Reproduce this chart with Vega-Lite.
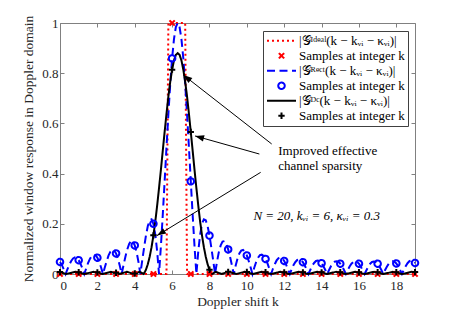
{
 "$schema": "https://vega.github.io/schema/vega-lite/v6.json",
 "width": 355, "height": 251,
 "autosize": {"type": "none"},
 "padding": {"left": 60, "top": 23, "right": 42, "bottom": 36},
 "background": "white",
 "config": {
  "view": {"stroke": null},
  "font": "Liberation Serif",
  "axis": {"domainColor": "#808080", "tickColor": "#808080", "labelFont": "Liberation Serif", "labelFontSize": 13, "labelColor": "#262626", "titleFont": "Liberation Serif", "titleFontSize": 13.5, "titleFontWeight": "normal", "titleColor": "#262626", "grid": false, "tickSize": -4},
  "legend": {"orient": "none", "legendX": 203, "legendY": 8, "strokeColor": "#404040", "fillColor": "white", "padding": 3, "labelFont": "Liberation Serif", "labelFontSize": 13, "labelColor": "black", "symbolStrokeWidth": 2, "rowPadding": 1, "labelOffset": 2, "labelLimit": 0, "clipHeight": 13.5}
 },
 "datasets": {
  "curves": [
   {"k":0,"v":0,"s":"IdealLine"},{"k":5.7,"v":0,"s":"IdealLine"},{"k":5.8,"v":1,"s":"IdealLine"},{"k":6.7,"v":1,"s":"IdealLine"},{"k":6.8,"v":0,"s":"IdealLine"},{"k":19,"v":0,"s":"IdealLine"},
   {"k":0,"v":0.048,"s":"RectLine"},{"k":0.1,"v":0.036,"s":"RectLine"},{"k":0.2,"v":0.019,"s":"RectLine"},{"k":0.3,"v":0,"s":"RectLine"},{"k":0.4,"v":0.019,"s":"RectLine"},{"k":0.5,"v":0.037,"s":"RectLine"},{"k":0.6,"v":0.052,"s":"RectLine"},{"k":0.7,"v":0.062,"s":"RectLine"},{"k":0.8,"v":0.066,"s":"RectLine"},{"k":0.9,"v":0.063,"s":"RectLine"},
   {"k":1.0,"v":0.055,"s":"RectLine"},{"k":1.1,"v":0.040,"s":"RectLine"},{"k":1.2,"v":0.022,"s":"RectLine"},{"k":1.3,"v":0,"s":"RectLine"},{"k":1.4,"v":0.022,"s":"RectLine"},{"k":1.5,"v":0.043,"s":"RectLine"},{"k":1.6,"v":0.060,"s":"RectLine"},{"k":1.7,"v":0.072,"s":"RectLine"},{"k":1.8,"v":0.077,"s":"RectLine"},{"k":1.9,"v":0.075,"s":"RectLine"},
   {"k":2.0,"v":0.065,"s":"RectLine"},{"k":2.1,"v":0.048,"s":"RectLine"},{"k":2.2,"v":0.026,"s":"RectLine"},{"k":2.3,"v":0,"s":"RectLine"},{"k":2.4,"v":0.027,"s":"RectLine"},{"k":2.5,"v":0.052,"s":"RectLine"},{"k":2.6,"v":0.074,"s":"RectLine"},{"k":2.7,"v":0.089,"s":"RectLine"},{"k":2.8,"v":0.096,"s":"RectLine"},{"k":2.9,"v":0.093,"s":"RectLine"},
   {"k":3.0,"v":0.082,"s":"RectLine"},{"k":3.1,"v":0.061,"s":"RectLine"},{"k":3.2,"v":0.033,"s":"RectLine"},{"k":3.3,"v":0,"s":"RectLine"},{"k":3.4,"v":0.035,"s":"RectLine"},{"k":3.5,"v":0.069,"s":"RectLine"},{"k":3.6,"v":0.098,"s":"RectLine"},{"k":3.7,"v":0.120,"s":"RectLine"},{"k":3.8,"v":0.131,"s":"RectLine"},{"k":3.9,"v":0.129,"s":"RectLine"},
   {"k":4.0,"v":0.114,"s":"RectLine"},{"k":4.1,"v":0.087,"s":"RectLine"},{"k":4.2,"v":0.048,"s":"RectLine"},{"k":4.3,"v":0,"s":"RectLine"},{"k":4.4,"v":0.053,"s":"RectLine"},{"k":4.5,"v":0.105,"s":"RectLine"},{"k":4.6,"v":0.153,"s":"RectLine"},{"k":4.7,"v":0.191,"s":"RectLine"},{"k":4.8,"v":0.214,"s":"RectLine"},{"k":4.9,"v":0.218,"s":"RectLine"},
   {"k":5.0,"v":0.200,"s":"RectLine"},{"k":5.1,"v":0.157,"s":"RectLine"},{"k":5.2,"v":0.090,"s":"RectLine"},{"k":5.3,"v":0,"s":"RectLine"},{"k":5.4,"v":0.110,"s":"RectLine"},{"k":5.5,"v":0.235,"s":"RectLine"},{"k":5.6,"v":0.369,"s":"RectLine"},{"k":5.7,"v":0.505,"s":"RectLine"},{"k":5.8,"v":0.637,"s":"RectLine"},{"k":5.9,"v":0.757,"s":"RectLine"},
   {"k":6.0,"v":0.859,"s":"RectLine"},{"k":6.1,"v":0.936,"s":"RectLine"},{"k":6.2,"v":0.984,"s":"RectLine"},{"k":6.3,"v":1,"s":"RectLine"},{"k":6.4,"v":0.984,"s":"RectLine"},{"k":6.5,"v":0.936,"s":"RectLine"},{"k":6.6,"v":0.859,"s":"RectLine"},{"k":6.7,"v":0.757,"s":"RectLine"},{"k":6.8,"v":0.637,"s":"RectLine"},{"k":6.9,"v":0.505,"s":"RectLine"},
   {"k":7.0,"v":0.369,"s":"RectLine"},{"k":7.1,"v":0.235,"s":"RectLine"},{"k":7.2,"v":0.110,"s":"RectLine"},{"k":7.3,"v":0,"s":"RectLine"},{"k":7.4,"v":0.090,"s":"RectLine"},{"k":7.5,"v":0.157,"s":"RectLine"},{"k":7.6,"v":0.200,"s":"RectLine"},{"k":7.7,"v":0.218,"s":"RectLine"},{"k":7.8,"v":0.214,"s":"RectLine"},{"k":7.9,"v":0.191,"s":"RectLine"},
   {"k":8.0,"v":0.153,"s":"RectLine"},{"k":8.1,"v":0.105,"s":"RectLine"},{"k":8.2,"v":0.053,"s":"RectLine"},{"k":8.3,"v":0,"s":"RectLine"},{"k":8.4,"v":0.048,"s":"RectLine"},{"k":8.5,"v":0.087,"s":"RectLine"},{"k":8.6,"v":0.114,"s":"RectLine"},{"k":8.7,"v":0.129,"s":"RectLine"},{"k":8.8,"v":0.131,"s":"RectLine"},{"k":8.9,"v":0.120,"s":"RectLine"},
   {"k":9.0,"v":0.098,"s":"RectLine"},{"k":9.1,"v":0.069,"s":"RectLine"},{"k":9.2,"v":0.035,"s":"RectLine"},{"k":9.3,"v":0,"s":"RectLine"},{"k":9.4,"v":0.033,"s":"RectLine"},{"k":9.5,"v":0.061,"s":"RectLine"},{"k":9.6,"v":0.082,"s":"RectLine"},{"k":9.7,"v":0.093,"s":"RectLine"},{"k":9.8,"v":0.096,"s":"RectLine"},{"k":9.9,"v":0.089,"s":"RectLine"},
   {"k":10.0,"v":0.074,"s":"RectLine"},{"k":10.1,"v":0.052,"s":"RectLine"},{"k":10.2,"v":0.027,"s":"RectLine"},{"k":10.3,"v":0,"s":"RectLine"},{"k":10.4,"v":0.026,"s":"RectLine"},{"k":10.5,"v":0.048,"s":"RectLine"},{"k":10.6,"v":0.065,"s":"RectLine"},{"k":10.7,"v":0.075,"s":"RectLine"},{"k":10.8,"v":0.077,"s":"RectLine"},{"k":10.9,"v":0.072,"s":"RectLine"},
   {"k":11.0,"v":0.060,"s":"RectLine"},{"k":11.1,"v":0.043,"s":"RectLine"},{"k":11.2,"v":0.022,"s":"RectLine"},{"k":11.3,"v":0,"s":"RectLine"},{"k":11.4,"v":0.022,"s":"RectLine"},{"k":11.5,"v":0.040,"s":"RectLine"},{"k":11.6,"v":0.055,"s":"RectLine"},{"k":11.7,"v":0.063,"s":"RectLine"},{"k":11.8,"v":0.066,"s":"RectLine"},{"k":11.9,"v":0.062,"s":"RectLine"},
   {"k":12.0,"v":0.052,"s":"RectLine"},{"k":12.1,"v":0.037,"s":"RectLine"},{"k":12.2,"v":0.019,"s":"RectLine"},{"k":12.3,"v":0,"s":"RectLine"},{"k":12.4,"v":0.019,"s":"RectLine"},{"k":12.5,"v":0.036,"s":"RectLine"},{"k":12.6,"v":0.048,"s":"RectLine"},{"k":12.7,"v":0.056,"s":"RectLine"},{"k":12.8,"v":0.059,"s":"RectLine"},{"k":12.9,"v":0.055,"s":"RectLine"},
   {"k":13.0,"v":0.047,"s":"RectLine"},{"k":13.1,"v":0.034,"s":"RectLine"},{"k":13.2,"v":0.018,"s":"RectLine"},{"k":13.3,"v":0,"s":"RectLine"},{"k":13.4,"v":0.017,"s":"RectLine"},{"k":13.5,"v":0.033,"s":"RectLine"},{"k":13.6,"v":0.044,"s":"RectLine"},{"k":13.7,"v":0.052,"s":"RectLine"},{"k":13.8,"v":0.054,"s":"RectLine"},{"k":13.9,"v":0.051,"s":"RectLine"},
   {"k":14.0,"v":0.043,"s":"RectLine"},{"k":14.1,"v":0.031,"s":"RectLine"},{"k":14.2,"v":0.016,"s":"RectLine"},{"k":14.3,"v":0,"s":"RectLine"},{"k":14.4,"v":0.016,"s":"RectLine"},{"k":14.5,"v":0.031,"s":"RectLine"},{"k":14.6,"v":0.042,"s":"RectLine"},{"k":14.7,"v":0.049,"s":"RectLine"},{"k":14.8,"v":0.051,"s":"RectLine"},{"k":14.9,"v":0.049,"s":"RectLine"},
   {"k":15.0,"v":0.041,"s":"RectLine"},{"k":15.1,"v":0.030,"s":"RectLine"},{"k":15.2,"v":0.016,"s":"RectLine"},{"k":15.3,"v":0,"s":"RectLine"},{"k":15.4,"v":0.016,"s":"RectLine"},{"k":15.5,"v":0.030,"s":"RectLine"},{"k":15.6,"v":0.041,"s":"RectLine"},{"k":15.7,"v":0.048,"s":"RectLine"},{"k":15.8,"v":0.050,"s":"RectLine"},{"k":15.9,"v":0.048,"s":"RectLine"},
   {"k":16.0,"v":0.041,"s":"RectLine"},{"k":16.1,"v":0.029,"s":"RectLine"},{"k":16.2,"v":0.015,"s":"RectLine"},{"k":16.3,"v":0,"s":"RectLine"},{"k":16.4,"v":0.015,"s":"RectLine"},{"k":16.5,"v":0.029,"s":"RectLine"},{"k":16.6,"v":0.041,"s":"RectLine"},{"k":16.7,"v":0.048,"s":"RectLine"},{"k":16.8,"v":0.050,"s":"RectLine"},{"k":16.9,"v":0.048,"s":"RectLine"},
   {"k":17.0,"v":0.041,"s":"RectLine"},{"k":17.1,"v":0.030,"s":"RectLine"},{"k":17.2,"v":0.016,"s":"RectLine"},{"k":17.3,"v":0,"s":"RectLine"},{"k":17.4,"v":0.016,"s":"RectLine"},{"k":17.5,"v":0.030,"s":"RectLine"},{"k":17.6,"v":0.041,"s":"RectLine"},{"k":17.7,"v":0.049,"s":"RectLine"},{"k":17.8,"v":0.051,"s":"RectLine"},{"k":17.9,"v":0.049,"s":"RectLine"},
   {"k":18.0,"v":0.042,"s":"RectLine"},{"k":18.1,"v":0.031,"s":"RectLine"},{"k":18.2,"v":0.016,"s":"RectLine"},{"k":18.3,"v":0,"s":"RectLine"},{"k":18.4,"v":0.016,"s":"RectLine"},{"k":18.5,"v":0.031,"s":"RectLine"},{"k":18.6,"v":0.043,"s":"RectLine"},{"k":18.7,"v":0.051,"s":"RectLine"},{"k":18.8,"v":0.054,"s":"RectLine"},{"k":18.9,"v":0.052,"s":"RectLine"},
   {"k":19.0,"v":0.044,"s":"RectLine"},
   {"k":0,"v":0.0075,"s":"DCLine"},{"k":0.323,"v":0,"s":"DCLine"},{"k":0.819,"v":0.0088,"s":"DCLine"},{"k":1.306,"v":0,"s":"DCLine"},{"k":1.79,"v":0.0088,"s":"DCLine"},{"k":2.263,"v":0,"s":"DCLine"},{"k":2.724,"v":0.0088,"s":"DCLine"},{"k":3.166,"v":0,"s":"DCLine"},{"k":3.581,"v":0.0088,"s":"DCLine"},{"k":3.955,"v":0,"s":"DCLine"},{"k":4.258,"v":0.0088,"s":"DCLine"},{"k":4.472,"v":0,"s":"DCLine"},{"k":4.545,"v":0.0088,"s":"DCLine"},
   {"k":4.6,"v":0.017,"s":"DCLine"},{"k":4.7,"v":0.039,"s":"DCLine"},{"k":4.8,"v":0.069,"s":"DCLine"},{"k":4.9,"v":0.107,"s":"DCLine"},{"k":5.0,"v":0.154,"s":"DCLine"},{"k":5.1,"v":0.209,"s":"DCLine"},{"k":5.2,"v":0.273,"s":"DCLine"},{"k":5.3,"v":0.342,"s":"DCLine"},{"k":5.4,"v":0.415,"s":"DCLine"},{"k":5.5,"v":0.491,"s":"DCLine"},{"k":5.6,"v":0.566,"s":"DCLine"},{"k":5.7,"v":0.639,"s":"DCLine"},{"k":5.8,"v":0.707,"s":"DCLine"},{"k":5.9,"v":0.766,"s":"DCLine"},
   {"k":6.0,"v":0.814,"s":"DCLine"},{"k":6.1,"v":0.851,"s":"DCLine"},{"k":6.2,"v":0.873,"s":"DCLine"},{"k":6.3,"v":0.880,"s":"DCLine"},{"k":6.4,"v":0.873,"s":"DCLine"},{"k":6.5,"v":0.851,"s":"DCLine"},{"k":6.6,"v":0.814,"s":"DCLine"},{"k":6.7,"v":0.766,"s":"DCLine"},{"k":6.8,"v":0.707,"s":"DCLine"},{"k":6.9,"v":0.639,"s":"DCLine"},
   {"k":7.0,"v":0.566,"s":"DCLine"},{"k":7.1,"v":0.491,"s":"DCLine"},{"k":7.2,"v":0.415,"s":"DCLine"},{"k":7.3,"v":0.342,"s":"DCLine"},{"k":7.4,"v":0.273,"s":"DCLine"},{"k":7.5,"v":0.209,"s":"DCLine"},{"k":7.6,"v":0.154,"s":"DCLine"},{"k":7.7,"v":0.107,"s":"DCLine"},{"k":7.8,"v":0.069,"s":"DCLine"},{"k":7.9,"v":0.039,"s":"DCLine"},{"k":8.0,"v":0.017,"s":"DCLine"},{"k":8.055,"v":0.0088,"s":"DCLine"},
   {"k":8.128,"v":0,"s":"DCLine"},{"k":8.342,"v":0.0088,"s":"DCLine"},{"k":8.645,"v":0,"s":"DCLine"},{"k":9.019,"v":0.0088,"s":"DCLine"},{"k":9.434,"v":0,"s":"DCLine"},{"k":9.876,"v":0.0088,"s":"DCLine"},{"k":10.337,"v":0,"s":"DCLine"},{"k":10.81,"v":0.0088,"s":"DCLine"},{"k":11.294,"v":0,"s":"DCLine"},{"k":11.781,"v":0.0088,"s":"DCLine"},{"k":12.277,"v":0,"s":"DCLine"},{"k":12.771,"v":0.0088,"s":"DCLine"},{"k":13.271,"v":0,"s":"DCLine"},{"k":13.773,"v":0.0088,"s":"DCLine"},{"k":14.277,"v":0,"s":"DCLine"},{"k":14.782,"v":0.0088,"s":"DCLine"},{"k":15.287,"v":0,"s":"DCLine"},{"k":15.794,"v":0.0088,"s":"DCLine"},{"k":16.3,"v":0,"s":"DCLine"},{"k":16.806,"v":0.0088,"s":"DCLine"},{"k":17.313,"v":0,"s":"DCLine"},{"k":17.818,"v":0.0088,"s":"DCLine"},{"k":18.323,"v":0,"s":"DCLine"},{"k":18.829,"v":0.0088,"s":"DCLine"},{"k":19,"v":0.0076,"s":"DCLine"}
  ],
  "samples": [
   {"k":0,"v":0,"s":"IdealSamples"},{"k":1,"v":0,"s":"IdealSamples"},{"k":2,"v":0,"s":"IdealSamples"},{"k":3,"v":0,"s":"IdealSamples"},{"k":4,"v":0,"s":"IdealSamples"},{"k":5,"v":0,"s":"IdealSamples"},{"k":6,"v":1,"s":"IdealSamples"},{"k":7,"v":0,"s":"IdealSamples"},{"k":8,"v":0,"s":"IdealSamples"},{"k":9,"v":0,"s":"IdealSamples"},{"k":10,"v":0,"s":"IdealSamples"},{"k":11,"v":0,"s":"IdealSamples"},{"k":12,"v":0,"s":"IdealSamples"},{"k":13,"v":0,"s":"IdealSamples"},{"k":14,"v":0,"s":"IdealSamples"},{"k":15,"v":0,"s":"IdealSamples"},{"k":16,"v":0,"s":"IdealSamples"},{"k":17,"v":0,"s":"IdealSamples"},{"k":18,"v":0,"s":"IdealSamples"},{"k":19,"v":0,"s":"IdealSamples"},
   {"k":0,"v":0.048,"s":"RectSamples"},{"k":1,"v":0.055,"s":"RectSamples"},{"k":2,"v":0.065,"s":"RectSamples"},{"k":3,"v":0.082,"s":"RectSamples"},{"k":4,"v":0.114,"s":"RectSamples"},{"k":5,"v":0.200,"s":"RectSamples"},{"k":6,"v":0.859,"s":"RectSamples"},{"k":7,"v":0.369,"s":"RectSamples"},{"k":8,"v":0.153,"s":"RectSamples"},{"k":9,"v":0.098,"s":"RectSamples"},{"k":10,"v":0.074,"s":"RectSamples"},{"k":11,"v":0.060,"s":"RectSamples"},{"k":12,"v":0.052,"s":"RectSamples"},{"k":13,"v":0.047,"s":"RectSamples"},{"k":14,"v":0.043,"s":"RectSamples"},{"k":15,"v":0.041,"s":"RectSamples"},{"k":16,"v":0.041,"s":"RectSamples"},{"k":17,"v":0.041,"s":"RectSamples"},{"k":18,"v":0.042,"s":"RectSamples"},{"k":19,"v":0.044,"s":"RectSamples"},
   {"k":0,"v":0.0075,"s":"DCSamples"},{"k":1,"v":0.007,"s":"DCSamples"},{"k":2,"v":0.0067,"s":"DCSamples"},{"k":3,"v":0.0049,"s":"DCSamples"},{"k":4,"v":0.002,"s":"DCSamples"},{"k":5,"v":0.154,"s":"DCSamples"},{"k":6,"v":0.814,"s":"DCSamples"},{"k":7,"v":0.566,"s":"DCSamples"},{"k":8,"v":0.017,"s":"DCSamples"},{"k":9,"v":0.0088,"s":"DCSamples"},{"k":10,"v":0.008,"s":"DCSamples"},{"k":11,"v":0.0072,"s":"DCSamples"},{"k":12,"v":0.0068,"s":"DCSamples"},{"k":13,"v":0.0066,"s":"DCSamples"},{"k":14,"v":0.0067,"s":"DCSamples"},{"k":15,"v":0.0069,"s":"DCSamples"},{"k":16,"v":0.007,"s":"DCSamples"},{"k":17,"v":0.0072,"s":"DCSamples"},{"k":18,"v":0.0074,"s":"DCSamples"},{"k":19,"v":0.0076,"s":"DCSamples"}
  ]
 },
 "layer": [
  {
   "data": {"name": "curves"},
   "mark": {"type": "line", "strokeWidth": 2},
   "encoding": {
    "x": {"field": "k", "type": "quantitative", "scale": {"domain": [0, 19], "nice": false, "zero": false},
          "axis": {"orient": "bottom", "values": [0,2,4,6,8,10,12,14,16,18], "title": "Doppler shift k", "labelPadding": 9, "titlePadding": 2}},
    "y": {"field": "v", "type": "quantitative", "scale": {"domain": [0, 1], "nice": false},
          "axis": {"orient": "left", "values": [0,0.2,0.4,0.6,0.8,1], "format": "~g", "title": "Normalized window response in Doppler domain", "labelPadding": 6, "titlePadding": 6}},
    "color": {"field": "s", "type": "nominal",
              "scale": {"domain": ["IdealLine","IdealSamples","RectLine","RectSamples","DCLine","DCSamples"], "range": ["#ff0000","#ff0000","#0000ff","#0000ff","#000000","#000000"]},
              "legend": {"title": null, "labelFont": "Liberation Serif", "labelExpr": "datum.value == 'IdealLine' ? '|𝒢ᴵᵈᵉᵃˡ(k − kᵥᵢ − κᵥᵢ)|' : datum.value == 'RectLine' ? '|𝒢ᴿᵉᶜᵗ(k − kᵥᵢ − κᵥᵢ)|' : datum.value == 'DCLine' ? '|𝒢ᴰᶜ(k − kᵥᵢ − κᵥᵢ)|' : 'Samples at integer k'"}},
    "strokeDash": {"field": "s", "type": "nominal",
              "scale": {"domain": ["IdealLine","IdealSamples","RectLine","RectSamples","DCLine","DCSamples"], "range": [[2,3],[1,0],[8,4.5],[1,0],[1,0],[1,0]]},
              "legend": {"title": null, "labelFont": "Liberation Serif", "labelExpr": "datum.value == 'IdealLine' ? '|𝒢ᴵᵈᵉᵃˡ(k − kᵥᵢ − κᵥᵢ)|' : datum.value == 'RectLine' ? '|𝒢ᴿᵉᶜᵗ(k − kᵥᵢ − κᵥᵢ)|' : datum.value == 'DCLine' ? '|𝒢ᴰᶜ(k − kᵥᵢ − κᵥᵢ)|' : 'Samples at integer k'"}}
   }
  },
  {
   "data": {"name": "samples"},
   "mark": {"type": "point", "filled": false, "strokeWidth": 2, "opacity": 1},
   "encoding": {
    "x": {"field": "k", "type": "quantitative", "axis": {"orient": "top", "values": [0,2,4,6,8,10,12,14,16,18], "labels": false, "title": null}},
    "y": {"field": "v", "type": "quantitative", "axis": {"orient": "right", "values": [0,0.2,0.4,0.6,0.8,1], "labels": false, "title": null}},
    "color": {"field": "s", "type": "nominal",
              "legend": {"title": null, "labelFont": "Liberation Serif", "labelExpr": "datum.value == 'IdealLine' ? '|𝒢ᴵᵈᵉᵃˡ(k − kᵥᵢ − κᵥᵢ)|' : datum.value == 'RectLine' ? '|𝒢ᴿᵉᶜᵗ(k − kᵥᵢ − κᵥᵢ)|' : datum.value == 'DCLine' ? '|𝒢ᴰᶜ(k − kᵥᵢ − κᵥᵢ)|' : 'Samples at integer k'"}},
    "strokeDash": {"field": "s", "type": "nominal",
              "legend": {"title": null, "labelFont": "Liberation Serif", "labelExpr": "datum.value == 'IdealLine' ? '|𝒢ᴵᵈᵉᵃˡ(k − kᵥᵢ − κᵥᵢ)|' : datum.value == 'RectLine' ? '|𝒢ᴿᵉᶜᵗ(k − kᵥᵢ − κᵥᵢ)|' : datum.value == 'DCLine' ? '|𝒢ᴰᶜ(k − kᵥᵢ − κᵥᵢ)|' : 'Samples at integer k'"}},
    "shape": {"field": "s", "type": "nominal",
              "scale": {"domain": ["IdealLine","IdealSamples","RectLine","RectSamples","DCLine","DCSamples"], "range": ["stroke","M-1,-1L1,1M-1,1L1,-1","stroke","circle","stroke","M-1,0L1,0M0,-1L0,1"]},
              "legend": {"title": null, "labelFont": "Liberation Serif", "labelExpr": "datum.value == 'IdealLine' ? '|𝒢ᴵᵈᵉᵃˡ(k − kᵥᵢ − κᵥᵢ)|' : datum.value == 'RectLine' ? '|𝒢ᴿᵉᶜᵗ(k − kᵥᵢ − κᵥᵢ)|' : datum.value == 'DCLine' ? '|𝒢ᴰᶜ(k − kᵥᵢ − κᵥᵢ)|' : 'Samples at integer k'"}},
    "size": {"field": "s", "type": "nominal",
              "scale": {"type": "ordinal", "domain": ["IdealLine","IdealSamples","RectLine","RectSamples","DCLine","DCSamples"], "range": [841, 28, 841, 42, 841, 40]},
              "legend": {"title": null, "labelFont": "Liberation Serif", "labelExpr": "datum.value == 'IdealLine' ? '|𝒢ᴵᵈᵉᵃˡ(k − kᵥᵢ − κᵥᵢ)|' : datum.value == 'RectLine' ? '|𝒢ᴿᵉᶜᵗ(k − kᵥᵢ − κᵥᵢ)|' : datum.value == 'DCLine' ? '|𝒢ᴰᶜ(k − kᵥᵢ − κᵥᵢ)|' : 'Samples at integer k'"}}
   }
  },
  {
   "data": {"values": [{}]},
   "mark": {"type": "text", "align": "left", "baseline": "middle", "lineBreak": "\n", "lineHeight": 15.3, "font": "Liberation Serif", "fontSize": 13, "color": "black"},
   "encoding": {
    "x": {"datum": 11.68, "type": "quantitative", "axis": null},
    "y": {"datum": 0.49, "type": "quantitative", "axis": null},
    "text": {"value": "Improved effective\nchannel sparsity"}
   }
  },
  {
   "data": {"values": [{}]},
   "mark": {"type": "text", "align": "center", "baseline": "middle", "font": "Liberation Serif, DejaVu Serif, serif", "fontStyle": "italic", "fontSize": 13, "color": "black"},
   "encoding": {
    "x": {"datum": 13.74, "type": "quantitative", "axis": null},
    "y": {"datum": 0.232, "type": "quantitative", "axis": null},
    "text": {"value": "N = 20, kᵥᵢ = 6, κᵥᵢ = 0.3"}
   }
  },
  {
   "data": {"values": [{}]},
   "mark": {"type": "rule", "color": "black", "strokeWidth": 1},
   "encoding": {
    "x": {"datum": 11.33, "type": "quantitative", "axis": null}, "y": {"datum": 0.518, "type": "quantitative", "axis": null},
    "x2": {"datum": 6.6}, "y2": {"datum": 0.793}
   }
  },
  {
   "data": {"values": [{}]},
   "mark": {"type": "rule", "color": "black", "strokeWidth": 1},
   "encoding": {
    "x": {"datum": 10.67, "type": "quantitative", "axis": null}, "y": {"datum": 0.478, "type": "quantitative", "axis": null},
    "x2": {"datum": 7.23}, "y2": {"datum": 0.55}
   }
  },
  {
   "data": {"values": [{}]},
   "mark": {"type": "rule", "color": "black", "strokeWidth": 1},
   "encoding": {
    "x": {"datum": 10.74, "type": "quantitative", "axis": null}, "y": {"datum": 0.405, "type": "quantitative", "axis": null},
    "x2": {"datum": 5.19}, "y2": {"datum": 0.153}
   }
  },
  {
   "data": {"values": [{}]},
   "mark": {"type": "point", "shape": "M0,0L-0.35,1L0.35,1Z", "filled": true, "color": "black", "opacity": 1, "size": 324, "angle": 308},
   "encoding": {"x": {"datum": 6.6, "type": "quantitative", "axis": null}, "y": {"datum": 0.793, "type": "quantitative", "axis": null}}
  },
  {
   "data": {"values": [{}]},
   "mark": {"type": "point", "shape": "M0,0L-0.35,1L0.35,1Z", "filled": true, "color": "black", "opacity": 1, "size": 324, "angle": 285.6},
   "encoding": {"x": {"datum": 7.23, "type": "quantitative", "axis": null}, "y": {"datum": 0.55, "type": "quantitative", "axis": null}}
  },
  {
   "data": {"values": [{}]},
   "mark": {"type": "point", "shape": "M0,0L-0.35,1L0.35,1Z", "filled": true, "color": "black", "opacity": 1, "size": 324, "angle": 238.6},
   "encoding": {"x": {"datum": 5.19, "type": "quantitative", "axis": null}, "y": {"datum": 0.153, "type": "quantitative", "axis": null}}
  }
 ],
 "resolve": {"axis": {"x": "independent", "y": "independent"}}
}
